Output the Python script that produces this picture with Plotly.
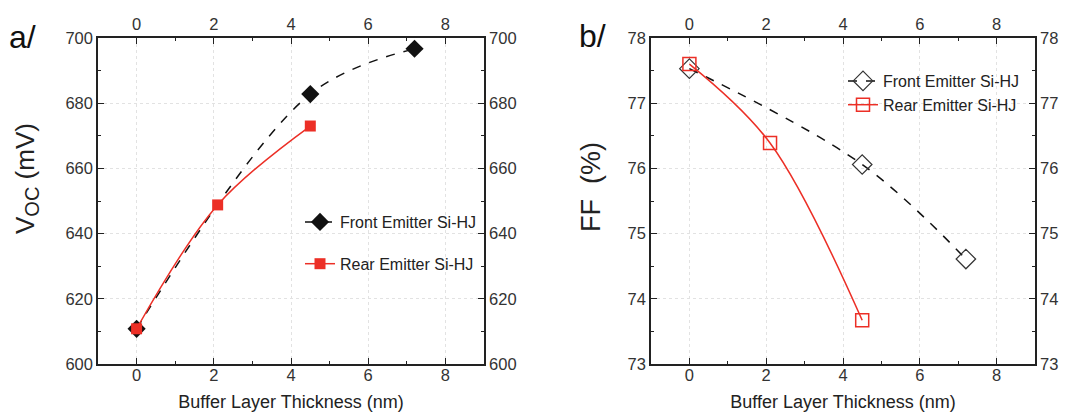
import plotly.graph_objects as go

# ---- data ----
front_x = [0, 4.5, 7.2]
front_voc = [610.8, 682.8, 696.7]
rear_x = [0, 2.1, 4.5]
rear_voc = [610.8, 648.8, 673.0]
front_ff = [77.53, 76.06, 74.61]
rear_ff = [77.6, 76.39, 73.67]
series_names = ["Front Emitter Si-HJ", "Rear Emitter Si-HJ"]
x_ticks = [0, 2, 4, 6, 8]
voc_ticks = [600, 620, 640, 660, 680, 700]
ff_ticks = [73, 74, 75, 76, 77, 78]

RED = "#ec2f26"
BLACK = "#111111"
FONT = "Liberation Sans, Arial, sans-serif"
# page is 1081x420; html body has an 8px default margin
OFF = 8
FW, FH = 1081 - 2 * OFF, 420 - 2 * OFF


def fx(px):
    return (px - OFF) / FW


def fy(py):
    return 1 - (py - OFF) / FH


fig = go.Figure()

# invisible carriers so the mirrored (top / right) axes are drawn
fig.add_trace(go.Scatter(x=front_x, y=front_voc, mode="markers", marker=dict(opacity=0),
                         xaxis="x2", yaxis="y2", showlegend=False, hoverinfo="skip"))
fig.add_trace(go.Scatter(x=front_x, y=front_ff, mode="markers", marker=dict(opacity=0),
                         xaxis="x4", yaxis="y4", showlegend=False, hoverinfo="skip"))

# panel a
fig.add_trace(go.Scatter(x=front_x, y=front_voc, name=series_names[0], mode="lines+markers",
                         line=dict(color=BLACK, dash="dash", width=1.5, shape="spline"),
                         marker=dict(symbol="diamond", size=14, color=BLACK),
                         xaxis="x", yaxis="y", legend="legend", legendgroup="a1"))
fig.add_trace(go.Scatter(x=rear_x, y=rear_voc, name=series_names[1], mode="lines+markers",
                         line=dict(color=RED, width=1.5, shape="spline"),
                         marker=dict(symbol="square", size=11, color=RED),
                         xaxis="x", yaxis="y", legend="legend", legendgroup="a2"))
# panel b
fig.add_trace(go.Scatter(x=front_x, y=front_ff, name=series_names[0], mode="lines+markers",
                         line=dict(color=BLACK, dash="dash", width=1.5, shape="spline"),
                         marker=dict(symbol="diamond-open", size=15, color="#333333", line=dict(width=1.2)),
                         xaxis="x3", yaxis="y3", legend="legend2", legendgroup="b1"))
fig.add_trace(go.Scatter(x=rear_x, y=rear_ff, name=series_names[1], mode="lines+markers",
                         line=dict(color=RED, width=1.5, shape="spline"),
                         marker=dict(symbol="square-open", size=13, color=RED, line=dict(width=1.5)),
                         xaxis="x3", yaxis="y3", legend="legend2", legendgroup="b2"))

dom_a = [fx(98), fx(484)]
dom_b = [fx(651), fx(1035)]
dom_y = [fy(364), fy(38)]

tickfont = dict(family=FONT, size=16.5, color="#333333")
common = dict(showline=True, linecolor="#222222", linewidth=1.5, ticks="inside", ticklen=6,
              tickwidth=1.2, tickcolor="#222222", tickfont=tickfont, zeroline=False, automargin=False,
              minor=dict(ticks="inside", ticklen=3, tickcolor="#222222", tickwidth=1, showgrid=False))
GRID = dict(showgrid=True, gridcolor="#e2e2e2", griddash="dot", gridwidth=1)
xcommon = dict(common, range=[-1, 9], tickvals=x_ticks)
xcommon["minor"] = dict(common["minor"], dtick=1, tick0=1)

xtitle = dict(text="Buffer Layer Thickness (nm)", font=dict(family=FONT, size=18, color="#222222"), standoff=27)
title_font = dict(family=FONT, size=26, color="#222222")

fig.update_layout(
    width=FW, height=FH, margin=dict(l=0, r=0, t=0, b=0),
    paper_bgcolor="white", plot_bgcolor="white",
    font=dict(family=FONT, color="#222222"),
    xaxis=dict(xcommon, **GRID, domain=dom_a, anchor="y", side="bottom", title=xtitle, ticklabelstandoff=-5),
    xaxis2=dict(xcommon, domain=dom_a, anchor="y2", side="top", overlaying="x", matches="x", showgrid=False),
    yaxis=dict(common, **GRID, domain=dom_y, anchor="x", range=[600, 700], tickvals=voc_ticks,
               minor=dict(common["minor"], dtick=10, tick0=610)),
    yaxis2=dict(common, domain=dom_y, anchor="x2", range=[600, 700], tickvals=voc_ticks, side="right",
                overlaying="y", showgrid=False, minor=dict(common["minor"], dtick=10, tick0=610)),
    xaxis3=dict(xcommon, **GRID, domain=dom_b, anchor="y3", side="bottom", title=xtitle, ticklabelstandoff=-5),
    xaxis4=dict(xcommon, domain=dom_b, anchor="y4", side="top", overlaying="x3", matches="x3", showgrid=False),
    yaxis3=dict(common, **GRID, domain=dom_y, anchor="x3", range=[73, 78], tickvals=ff_ticks,
                minor=dict(common["minor"], dtick=0.5, tick0=73.5)),
    yaxis4=dict(common, domain=dom_y, anchor="x4", range=[73, 78], tickvals=ff_ticks, side="right",
                overlaying="y3", showgrid=False, minor=dict(common["minor"], dtick=0.5, tick0=73.5)),
    legend=dict(x=fx(300), y=fy(205), xanchor="left", yanchor="top", bgcolor="rgba(0,0,0,0)",
                font=dict(family=FONT, size=16, color="#222222"), tracegroupgap=18),
    legend2=dict(x=fx(843), y=fy(64), xanchor="left", yanchor="top", bgcolor="rgba(0,0,0,0)",
                 font=dict(family=FONT, size=16, color="#222222"), tracegroupgap=0),
    annotations=[
        dict(text="a/", x=fx(7), y=fy(37), xref="paper", yref="paper", showarrow=False,
             xanchor="left", yanchor="middle", font=dict(family=FONT, size=32, color="#111111")),
        dict(text="b/", x=fx(577), y=fy(36), xref="paper", yref="paper", showarrow=False,
             xanchor="left", yanchor="middle", font=dict(family=FONT, size=32, color="#111111")),
        dict(text="V<sub><span style='font-size:20px'>OC</span></sub> (mV)", textangle=-90,
             x=fx(27), y=fy(179), xref="paper", yref="paper", showarrow=False,
             xanchor="center", yanchor="middle", font=title_font),
        dict(text="FF  (%)", textangle=-90,
             x=fx(591), y=fy(187), xref="paper", yref="paper", showarrow=False,
             xanchor="center", yanchor="middle", font=dict(title_font, size=27)),
    ],
)

fig.write_html("out.html")
